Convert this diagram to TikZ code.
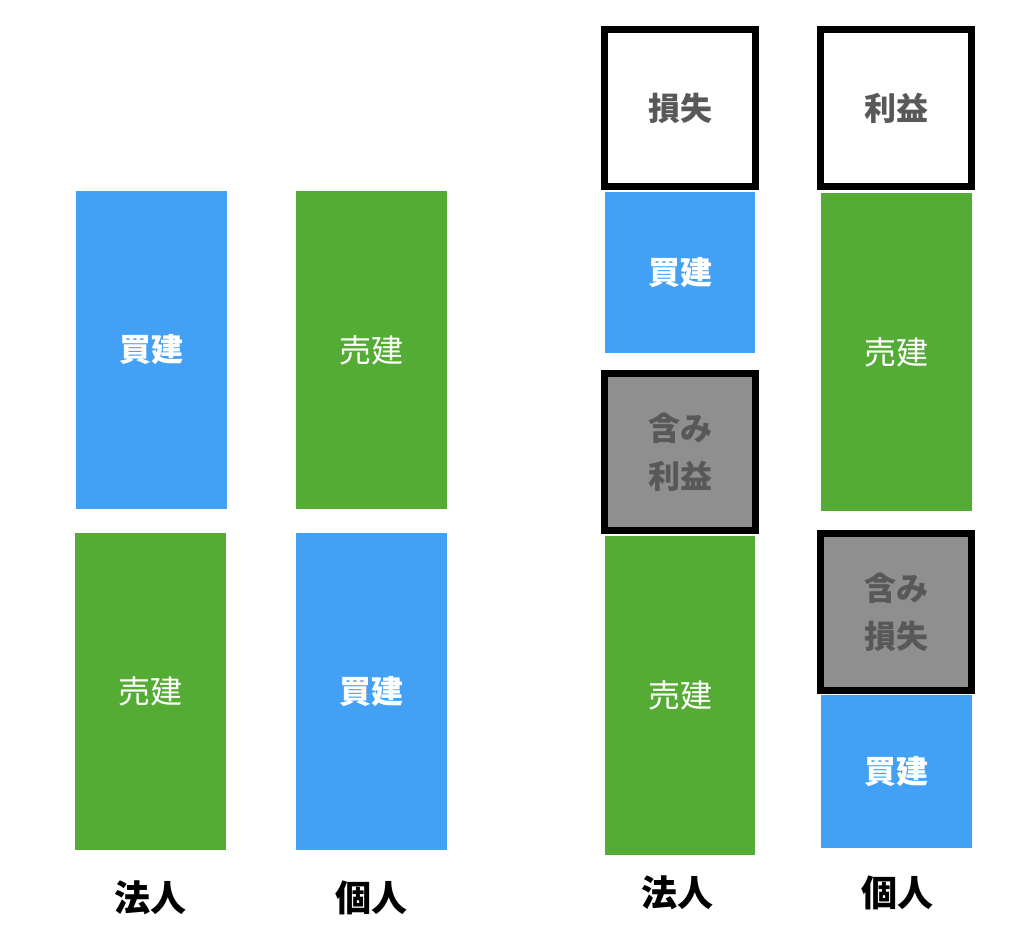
\documentclass[tikz,border=0pt]{standalone}
\usepackage{fontspec}
\newfontfamily\jp{Noto Sans CJK JP}
\usepackage{tikz}
\definecolor{kaiblue}{HTML}{42A0F5}
\definecolor{urigreen}{HTML}{55AC34}
\definecolor{fukumigray}{HTML}{8F8F8F}
\definecolor{textgray}{HTML}{585858}

\begin{document}
\begin{tikzpicture}[x=0.75pt, y=-0.75pt,
	kai/.style={fill=kaiblue, text=white, minimum width=113pt, inner sep=0pt, font=\jp\bfseries\fontsize{24}{36}\selectfont},
	uri/.style={fill=urigreen, text=white, minimum width=113pt, inner sep=0pt, font=\jp\fontsize{24}{36}\selectfont},
	frame/.style={draw=black, line width=5.25pt, minimum width=113.25pt, minimum height=117.75pt, inner sep=0pt, text=textgray, align=center, font=\jp\bfseries\fontsize{24}{36}\selectfont},
	who/.style={font=\jp\bfseries\fontsize{27}{30}\selectfont}]
	\useasboundingbox (0,0) rectangle (1024,945);
%	\draw [help lines] (0,0) grid (1024,945);
	% left pair
	\node [kai, minimum height=238.5pt] (kaiA) at (151.5,350) {買建};
	\node [uri, minimum height=238.5pt] (uriA) at (371.5,350) {売建};
	\node [uri, minimum height=237.75pt] (uriB) at (150.5,691.5) {売建};
	\node [kai, minimum height=237.75pt] (kaiB) at (371.5,691.5) {買建};
	\node [who] (hojinA) at (150,898) {法人};
	\node [who] (kojinA) at (371,898) {個人};
	% right pair
	\node [frame, fill=white] (sonshitsu) at (680,108.5) {損失};
	\node [kai, minimum height=120.75pt] (kaiC) at (680,272.5) {買建};
	\node [frame, fill=fukumigray] (fukumiEki) at (680,452) {含み\\利益};
	\node [uri, minimum height=239.25pt] (uriC) at (680,695.5) {売建};
	\node [frame, fill=white] (rieki) at (896,108) {利益};
	\node [uri, minimum height=238.5pt] (uriD) at (896.5,352) {売建};
	\node [frame, fill=fukumigray] (fukumiSon) at (896,612) {含み\\損失};
	\node [kai, minimum height=114.75pt] (kaiD) at (896.5,771.5) {買建};
	\node [who] (hojinB) at (677,893) {法人};
	\node [who] (kojinB) at (897,893) {個人};
\end{tikzpicture}
\end{document}
